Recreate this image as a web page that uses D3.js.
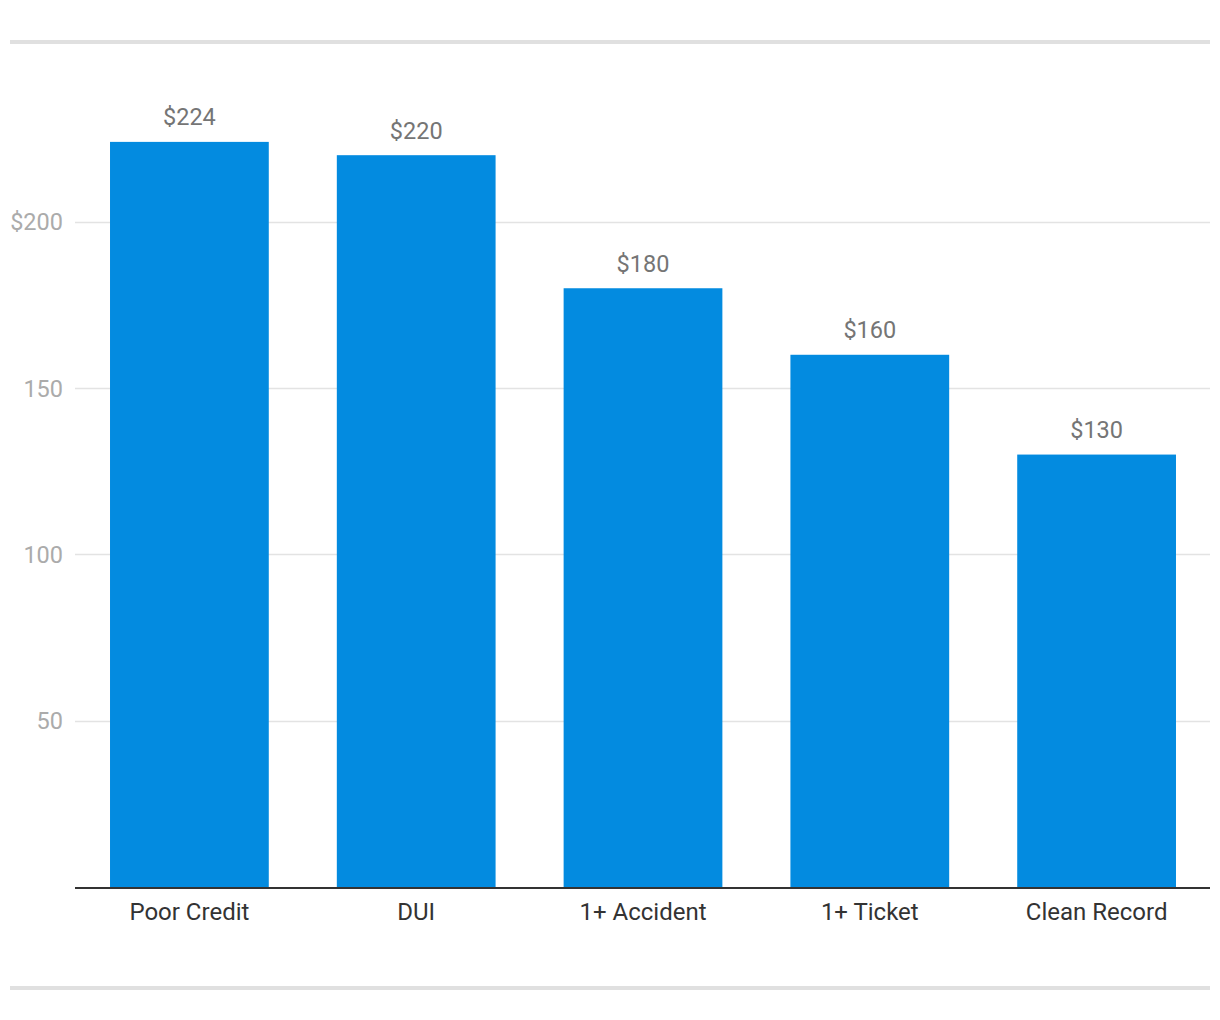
<!DOCTYPE html>
<html><head><meta charset="utf-8">
<script src="https://cdn.jsdelivr.net/npm/d3@7"></script>
<style>body{margin:0;background:#fff;}svg{display:block;font-family:Roboto,"Noto Sans",sans-serif;}</style>
</head><body>
<svg id="c" width="1220" height="1020"></svg>
<script>
const categories = ["Poor Credit", "DUI", "1+ Accident", "1+ Ticket", "Clean Record"];
const values = [224, 220, 180, 160, 130];
const valueLabels = ["$224", "$220", "$180", "$160", "$130"];
const yTicks = [50, 100, 150, 200];
const yTickLabels = ["50", "100", "150", "$200"];

const svg = d3.select("#c");
const x = d3.scaleBand().domain(categories).range([76, 1210]).paddingInner(0.3).paddingOuter(0.15);
const y = d3.scaleLinear().domain([0, 250]).range([887, 55.4]);

// frame lines
svg.append("rect").attr("x", 10).attr("y", 40).attr("width", 1200).attr("height", 4).attr("fill", "#e0e0e0");
svg.append("rect").attr("x", 10).attr("y", 986).attr("width", 1200).attr("height", 4).attr("fill", "#e0e0e0");

// grid
svg.append("g").selectAll("line").data(yTicks).join("line")
  .attr("x1", 75).attr("x2", 1210)
  .attr("y1", d => Math.round(y(d)) + 0.5).attr("y2", d => Math.round(y(d)) + 0.5)
  .attr("stroke", "#e3e3e3").attr("stroke-width", 1.5);

// y tick labels
svg.append("g").selectAll("text").data(yTicks).join("text")
  .attr("x", 63).attr("y", d => y(d) + 8.5)
  .attr("text-anchor", "end").attr("font-size", 23.5).attr("fill", "#ababab")
  .text((d, i) => yTickLabels[i]);

// bars
svg.append("g").selectAll("rect").data(values).join("rect")
  .attr("x", (d, i) => x(categories[i])).attr("width", x.bandwidth())
  .attr("y", d => y(d)).attr("height", d => y(0) - y(d))
  .attr("fill", "#038be0");

// value labels
svg.append("g").selectAll("text").data(values).join("text")
  .attr("x", (d, i) => x(categories[i]) + x.bandwidth() / 2)
  .attr("y", d => y(d) - 16.5)
  .attr("text-anchor", "middle").attr("font-size", 23.5).attr("fill", "#757575")
  .text((d, i) => valueLabels[i]);

// x axis line
svg.append("line").attr("x1", 75).attr("x2", 1210).attr("y1", 888).attr("y2", 888)
  .attr("stroke", "#333").attr("stroke-width", 2);

// x labels
svg.append("g").selectAll("text").data(categories).join("text")
  .attr("x", d => x(d) + x.bandwidth() / 2).attr("y", 919.5)
  .attr("text-anchor", "middle").attr("font-size", 24).attr("fill", "#333")
  .text(d => d);
</script>
</body></html>
